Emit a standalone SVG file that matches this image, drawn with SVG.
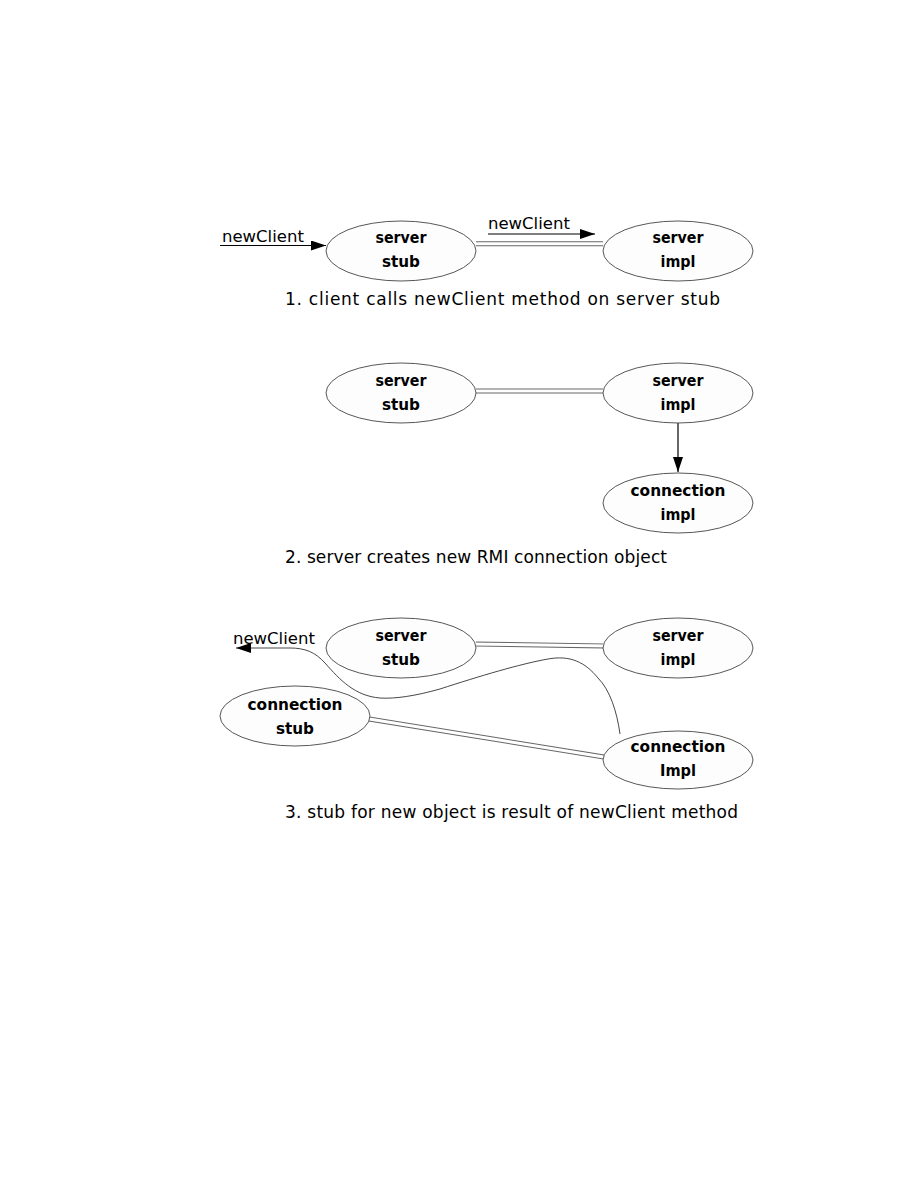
<svg xmlns="http://www.w3.org/2000/svg" width="918" height="1188" viewBox="0 0 918 1188">
<defs>
<marker id="ah" viewBox="0 0 15 10" refX="15" refY="5" markerWidth="15" markerHeight="10" markerUnits="userSpaceOnUse" orient="auto">
<path d="M0,0 L15,5 L0,10 Z" fill="#000"/>
</marker>
<style>
.node ellipse{fill:#fdfdfd;stroke:#444;stroke-width:0.9}
.lbl{font-family:"DejaVu Sans",sans-serif;font-weight:bold;font-size:16.5px;fill:#000;text-anchor:middle}
.msg{font-family:"DejaVu Sans",sans-serif;font-size:16.5px;fill:#000}
.cap{font-family:"DejaVu Sans",sans-serif;font-size:17px;fill:#000}
.dbl-o{fill:none;stroke:#666;stroke-width:5}
.dbl-i{fill:none;stroke:#fff;stroke-width:3}
.arr{fill:none;stroke:#000;stroke-width:1.2}
.thin{fill:none;stroke:#333;stroke-width:0.9}
</style>
</defs>
<rect width="918" height="1188" fill="#fff"/>

<g id="connectors">
<line class="arr" x1="220" y1="245.5" x2="326" y2="245.5" marker-end="url(#ah)"/>
<line class="dbl-o" x1="476" y1="243.7" x2="603" y2="243.7"/>
<line class="dbl-i" x1="470" y1="243.7" x2="609" y2="243.7"/>
<line class="arr" x1="488" y1="234" x2="595" y2="234" marker-end="url(#ah)"/>
<line class="dbl-o" x1="476" y1="391" x2="603" y2="391"/>
<line class="dbl-i" x1="470" y1="391" x2="609" y2="391"/>
<line class="arr" x1="678" y1="423" x2="678" y2="472" marker-end="url(#ah)"/>
<line class="dbl-o" x1="476" y1="644" x2="603" y2="646"/>
<line class="dbl-i" x1="470" y1="644" x2="609" y2="646"/>
<line class="dbl-o" x1="369" y1="719" x2="604" y2="757"/>
<line class="dbl-i" x1="363" y1="718" x2="610" y2="758"/>
<path class="thin" d="M620,734 C617,712 610,690 598,678 C585,662 570,655 548,659 C520,664 480,676 440,689 C415,696 395,699 380,698 C355,696 340,680 325,663 C315,652 305,648 290,648 L236,648" marker-end="url(#ah)"/>
</g>

<g id="n-stub1" class="node">
<ellipse cx="401" cy="251" rx="75" ry="30"/>
<text class="lbl" x="401" y="243" textLength="51" lengthAdjust="spacingAndGlyphs">server</text>
<text class="lbl" x="401" y="267" textLength="38" lengthAdjust="spacingAndGlyphs">stub</text>
</g>
<g id="n-impl1" class="node">
<ellipse cx="678" cy="251" rx="75" ry="30"/>
<text class="lbl" x="678" y="243" textLength="51" lengthAdjust="spacingAndGlyphs">server</text>
<text class="lbl" x="678" y="267" textLength="35" lengthAdjust="spacingAndGlyphs">impl</text>
</g>
<text class="msg" x="222" y="242">newClient</text>
<text class="msg" x="488" y="229">newClient</text>
<text class="cap" x="285" y="305" textLength="435">1. client calls newClient method on server stub</text>

<g id="n-stub2" class="node">
<ellipse cx="401" cy="393" rx="75" ry="30"/>
<text class="lbl" x="401" y="386" textLength="51" lengthAdjust="spacingAndGlyphs">server</text>
<text class="lbl" x="401" y="410" textLength="38" lengthAdjust="spacingAndGlyphs">stub</text>
</g>
<g id="n-impl2" class="node">
<ellipse cx="678" cy="393" rx="75" ry="30"/>
<text class="lbl" x="678" y="386" textLength="51" lengthAdjust="spacingAndGlyphs">server</text>
<text class="lbl" x="678" y="410" textLength="35" lengthAdjust="spacingAndGlyphs">impl</text>
</g>
<g id="n-conn-impl2" class="node">
<ellipse cx="678" cy="503" rx="75" ry="30"/>
<text class="lbl" x="678" y="496" textLength="95" lengthAdjust="spacingAndGlyphs">connection</text>
<text class="lbl" x="678" y="520" textLength="35" lengthAdjust="spacingAndGlyphs">impl</text>
</g>
<text class="cap" x="285" y="563" textLength="382">2. server creates new RMI connection object</text>

<g id="n-stub3" class="node">
<ellipse cx="401" cy="648" rx="75" ry="30"/>
<text class="lbl" x="401" y="641" textLength="51" lengthAdjust="spacingAndGlyphs">server</text>
<text class="lbl" x="401" y="665" textLength="38" lengthAdjust="spacingAndGlyphs">stub</text>
</g>
<g id="n-impl3" class="node">
<ellipse cx="678" cy="648" rx="75" ry="30"/>
<text class="lbl" x="678" y="641" textLength="51" lengthAdjust="spacingAndGlyphs">server</text>
<text class="lbl" x="678" y="665" textLength="35" lengthAdjust="spacingAndGlyphs">impl</text>
</g>
<g id="n-conn-stub3" class="node">
<ellipse cx="295" cy="716" rx="75" ry="30"/>
<text class="lbl" x="295" y="710" textLength="95" lengthAdjust="spacingAndGlyphs">connection</text>
<text class="lbl" x="295" y="734" textLength="38" lengthAdjust="spacingAndGlyphs">stub</text>
</g>
<g id="n-conn-impl3" class="node">
<ellipse cx="678" cy="760" rx="75" ry="29"/>
<text class="lbl" x="678" y="752" textLength="95" lengthAdjust="spacingAndGlyphs">connection</text>
<text class="lbl" x="678" y="776" textLength="36" lengthAdjust="spacingAndGlyphs">Impl</text>
</g>
<text class="msg" x="233" y="644">newClient</text>
<text class="cap" x="285" y="818" textLength="453">3. stub for new object is result of newClient method</text>
</svg>
